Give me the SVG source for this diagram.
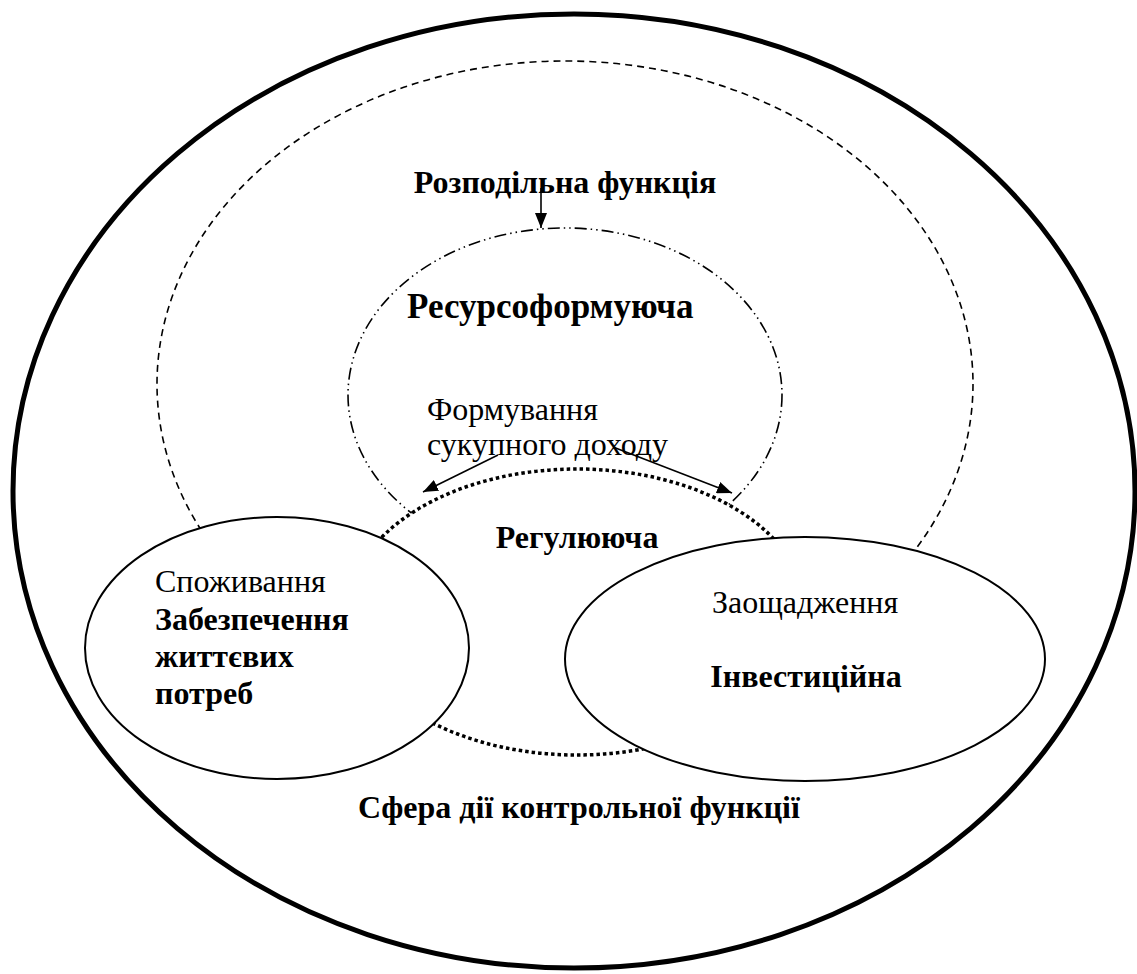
<svg xmlns="http://www.w3.org/2000/svg" width="1137" height="974" viewBox="0 0 1137 974">
  <style>
    .bg { fill: #ffffff; }
    .outer { fill: #ffffff; stroke: #000; stroke-width: 5; }
    .dashed { fill: #ffffff; stroke: #000; stroke-width: 1.6; stroke-dasharray: 7 5; }
    .dashdot { fill: none; stroke: #000; stroke-width: 1.6; stroke-dasharray: 12 4 1.5 4 1.5 4; }
    .dotted { fill: #ffffff; stroke: #000; stroke-width: 3.5; stroke-dasharray: 3.5 3; }
    .sphere { fill: #ffffff; stroke: #000; stroke-width: 2; }
    .arrow { fill: none; stroke: #000; stroke-width: 1.6; }
    .t { font-family: 'Liberation Serif', 'DejaVu Serif', serif; font-size: 32px; fill: #000; }
    .b { font-weight: bold; }
    .big { font-size: 35px; }
  </style>
  <defs>
    <marker id="head" viewBox="0 0 15 12" refX="15" refY="6" markerWidth="15" markerHeight="12" markerUnits="userSpaceOnUse" orient="auto">
      <path d="M0,0 L15,6 L0,12 Z" fill="#000"/>
    </marker>
  </defs>

  <rect class="bg" x="0" y="0" width="1137" height="974"/>

  <!-- control function sphere -->
  <g id="control">
    <ellipse class="outer" cx="574" cy="491" rx="561" ry="477"/>
    <text class="t b" x="579" y="818" text-anchor="middle">Сфера дії контрольної функції</text>
  </g>

  <!-- distributive function -->
  <g id="distributive">
    <ellipse class="dashed" cx="565" cy="384" rx="408" ry="323"/>
    <text class="t b" x="565" y="193" text-anchor="middle">Розподільна функція</text>
  </g>

  <!-- resource-forming function -->
  <g id="resource">
    <ellipse class="dashdot" cx="565" cy="395" rx="217" ry="167"/>
    <text class="t b big" x="407" y="318">Ресурсоформуюча</text>
    <text class="t" x="427" y="420">Формування</text>
    <text class="t" x="427" y="455">сукупного доходу</text>
  </g>

  <!-- regulating function -->
  <g id="regulating">
    <ellipse class="dotted" cx="577" cy="612" rx="229" ry="143"/>
    <text class="t b" x="577" y="548" text-anchor="middle">Регулююча</text>
  </g>

  <!-- consumption -->
  <g id="consumption">
    <ellipse class="sphere" cx="277" cy="648" rx="192" ry="131"/>
    <text class="t" x="155" y="592">Споживання</text>
    <text class="t b" x="155" y="630">Забезпечення</text>
    <text class="t b" x="155" y="667">життєвих</text>
    <text class="t b" x="155" y="704">потреб</text>
  </g>

  <!-- savings -->
  <g id="savings">
    <ellipse class="sphere" cx="805" cy="659" rx="240" ry="122"/>
    <text class="t" x="805" y="613" text-anchor="middle">Заощадження</text>
    <text class="t b" x="806" y="687" text-anchor="middle">Інвестиційна</text>
  </g>

  <!-- connectors -->
  <g id="connectors">
    <line class="arrow" x1="541" y1="188" x2="541" y2="228" marker-end="url(#head)"/>
    <line class="arrow" x1="498" y1="455" x2="423" y2="492" marker-end="url(#head)"/>
    <line class="arrow" x1="613" y1="447" x2="732" y2="493" marker-end="url(#head)"/>
  </g>
</svg>
